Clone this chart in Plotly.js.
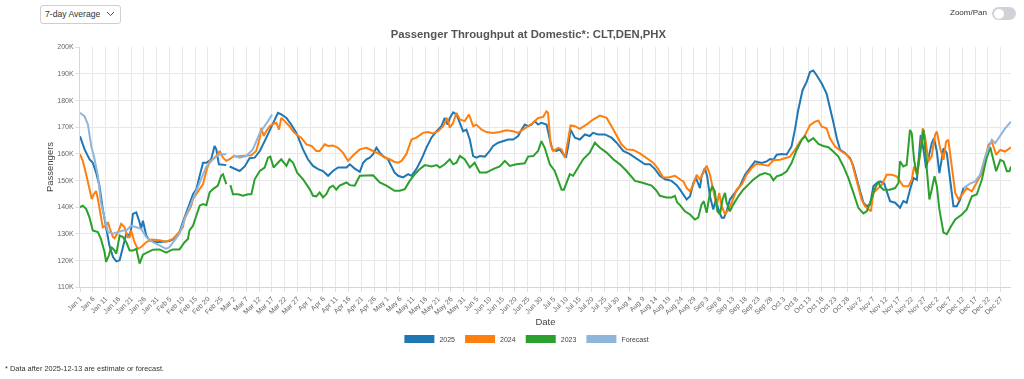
<!DOCTYPE html>
<html>
<head>
<meta charset="utf-8">
<script src="https://cdn.plot.ly/plotly-3.0.1.min.js"></script>
<style>
  body { margin: 0; background: #fff; font-family: "Liberation Sans", Arial, sans-serif; }
  #wrap { position: relative; width: 1024px; height: 379px; overflow: hidden; }
  #chart { position: absolute; left: 0; top: 0; width: 1024px; height: 379px; will-change: transform; }
  #sel { position: absolute; left: 40px; top: 5px; width: 81px; height: 19px; border: 1px solid #cfcfcf; border-radius: 3px;
         box-sizing: border-box; font-size: 8.6px; color: #333; line-height: 17px; padding-left: 4px; background: #fff; }
  #sel svg { position: absolute; right: 5px; top: 5px; }
  #zp { position: absolute; left: 950px; top: 8px; font-size: 8px; color: #333; }
  #tog { position: absolute; left: 992px; top: 7px; width: 24px; height: 13px; border-radius: 7px; background: #cfd2d6; }
  #tog div { position: absolute; left: 1.5px; top: 1.5px; width: 10px; height: 10px; border-radius: 50%; background: #fff; }
  #note { position: absolute; left: 5px; top: 364px; font-size: 7.4px; color: #333; }
</style>
</head>
<body>
<div id="wrap">
  <div id="chart"></div>
  <div id="sel">7-day Average<svg width="9" height="6" viewBox="0 0 9 6"><polyline points="1,1 4.5,4.5 8,1" fill="none" stroke="#555" stroke-width="1"/></svg></div>
  <div id="zp">Zoom/Pan</div>
  <div id="tog"><div></div></div>
  <div id="note">* Data after 2025-12-13 are estimate or forecast.</div>
</div>
<script>
// ---- data: day-of-year (0 = Jan 1) and 7-day average passengers (thousands) ----
const names = ["2025", "2024", "2023", "Forecast"];

const d2025 = [0,1.8,3.7,5.0,6.3,7.6,8.9,10.2,11.5,12.9,14.2,15.5,16.8,18.1,19.4,20.0,20.7,22.0,23.3,23.9,
  24.6,25.9,27.2,29.8,32.4,35.0,36.3,37.6,38.9,40.2,41.5,42.8,44.2,45.5,46.8,48.1,49.4,51.3,52.6,53.3,
  54.3,55.9,57.2,58,58.5,60.5,62.4,64.4,66.3,68.3,70.3,72.2,74.1,76.1,77.4,78.7,80.7,82.6,84.6,85.9,
  87.2,89.1,91.1,93.1,95.0,97.0,98.9,100.9,102.8,104.2,105.5,107.4,109.4,
  110.7,112.0,113.3,114.6,115.9,117.2,118.5,120.4,121.7,123.0,124.4,126.3,128.3,129.6,131.5,133.5,135.4,137.4,139.4,141.3,
  142.6,143.7,144.6,145.9,147.2,148.5,149.8,151.1,152.4,153.7,155.0,156.3,158.3,160.2,161.5,163.5,165.4,167.4,169.4,171.3,
  172.6,173.9,175.2,176.5,177.8,179.1,180.4,182.4,183.7,184.7,186.3,187.6,188.9,190.0,190.9,191.8,193.5,195.4,197.4,199.3,
  200.6,202.6,205.2,207.8,209.8,212.4,215.0,217.0,218.9,220.9,222.8,224.8,226.7,228.7,231.3,233.3,234.6,
  235.9,237.2,238.5,239.8,240.8,241.7,242.4,243.0,244.3,245.2,246.3,247.6,248.6,249.6,250.9,251.8,252.8,254.1,256.1,258.0,
  260.0,262.0,263.9,266.5,268.5,269.8,271.1,272.4,274.3,276.3,278.2,279.5,280.8,282.5,284.1,285.4,286.7,288.0,290.0,291.9,
  293.2,294.5,295.9,297.2,299.1,301.1,302.4,303.7,305.0,306.3,307.6,308.9,310.2,311.5,312.8,314.4,315.4,316.7,318.7,320.6,
  321.9,323.2,324.5,325.9,327.2,328.2,328.7,329.8,330.8,331.7,333.0,333.9,335.0,336.0,336.9,337.6,338.9,340.2,341.5,342.8,
  344.1,345.4];
const v2025 = [166.5,161.6,157.9,156.6,152.9,148,139.3,133,125.6,121.2,119.6,120,125.6,130,129.3,131.8,137.4,138,134.3,131.8,
  134.9,129.3,127.5,126.8,127,127.2,127.8,129.3,130.6,134.3,137.4,141.1,144.8,146.7,151.7,156.6,156.6,157.9,162.9,161.6,
  156,155.7,155.7,null,155.2,154.2,153.5,155.2,158.3,158.5,161,164.7,168.4,172.2,175.3,174.7,173.4,170.9,167.8,164.7,
  161.6,157.9,155.4,154.2,153.5,151.7,153.5,154.8,154.8,154.8,156,154.4,153.2,
  156.6,157.9,158.5,159.8,162.2,160.4,159.1,157.9,155.4,152.9,151.7,151.1,152.3,151.7,154.2,157.9,162.2,166,168.4,170.3,
  173.4,170.9,173.4,175.5,174.7,171.6,168.4,169,165.3,159.1,158.5,159.1,158.9,161,162.9,164.1,164.7,165.3,165.3,166.6,
  169,170.9,170.3,170.9,172.2,170.9,171.6,170.9,165.3,161.6,161,161.6,159.8,158.5,162.9,169,166,165.3,167.2,166.6,
  167.8,167.2,167.2,166,164.1,161,159.8,158.5,157.3,156,156,154.2,151.7,150.4,149.8,148.2,146.5,
  144.7,142.8,144,149,150.9,148.4,147.1,151.5,154.6,151.5,144,139.1,142.8,139.1,136,136,138.4,142.8,145.3,147.8,
  152.1,154.6,157.1,156.5,157.1,158,157.7,159.6,159.9,159.7,162.7,168.9,176.3,183.8,186.9,190.6,191.2,189.4,186.3,182.5,
  177.6,172,165.8,161.4,160.2,158.3,155.2,150.2,145.9,141.6,140.3,140.9,147.8,149,149.6,148.8,145.9,142.2,141.6,139.7,
  142.2,141.6,146.5,150.9,150.2,160.2,167,161.4,154.6,158.3,163.9,165.8,160.8,152.7,157.7,162,160.2,149,140.3,140.3,
  142.8,147.1];

const d2024 = [0,1.1,2.4,3.7,4.6,5.4,6.3,7.0,8.2,8.9,10.2,10.9,11.5,12.9,13.5,14.9,16.1,17.4,18.7,19.4,
  20.0,21.3,22.6,23.9,25.9,27.8,31.1,33.7,36.3,38.3,40.2,40.9,42.2,43.5,44.2,45.5,46.8,48.1,49.4,50.7,
  52.0,53.3,54.6,55.9,57.2,58.5,59.8,62.4,65.0,67.0,68.9,70.3,70.9,71.8,72.8,74.1,75.5,76.8,77.8,78.7,
  80.0,81.9,83.3,84.6,86.5,88.5,90.5,92.4,93.7,95.7,97.0,98.9,100.9,102.8,104.8,106.8,109.4,
  112.0,114.6,117.2,119.1,121.1,123.0,124.4,125.7,127.6,129.6,131.5,134.1,136.1,138.0,140.0,142.0,143.5,144.6,145.9,147.2,
  148.5,150.4,152.1,153.7,155.0,157.0,158.9,161.5,164.1,166.7,169.4,171.3,173.3,175.2,177.2,179.1,181.1,182.4,183.0,184.0,
  185.0,187.0,188.3,189.6,190.9,191.8,193.5,195.4,198.0,200.6,203.3,205.9,207.8,209.8,211.7,213.7,216.3,218.9,221.5,224.1,
  226.1,228.0,230.0,232.6,234.6,
  235.9,237.2,238.5,239.8,241.1,242.4,243.7,245.0,246.3,247.6,248.9,249.9,250.9,252.2,253.5,254.8,256.7,258.7,260.6,262.6,
  264.6,267.2,269.1,271.1,273.7,275.6,277.6,279.5,281.5,283.5,285.4,287.4,288.7,290.0,291.9,293.2,295.2,297.2,299.8,301.7,
  303.7,305.6,306.9,308.2,309.2,310.2,311.5,313.5,315.4,317.4,319.3,320.6,321.9,323.9,325.2,326.1,327.4,328.5,329.5,330.4,
  331.7,333.0,334.3,335.0,336.3,337.6,338.6,339.5,340.9,342.2,343.5,345.4,346.7,348.7,350.6,352.6,353.9,355.2,356.5,358.2,
  359.8,361.7,364];
const v2024 = [159.8,157.3,152.3,146.7,143,144.8,146,143,135.5,132.4,133,134.3,132.4,128.7,128.3,130.6,133.7,132.4,128.7,128.7,
  131.2,126.8,124.3,125,126.8,127.8,127.5,127,128,130,132.4,136,138,140.5,143,144.8,146.7,148.6,153.5,157.3,
  157.9,159.1,161,158.5,157.3,157.9,158.9,159.1,159.4,159.4,161,166,169.7,166.6,168.4,170.3,171.2,171.6,169,173.4,
  172.2,170.3,168.4,167.2,166,163.5,162.9,161,161,163.5,162.9,163.1,162.2,160.4,157.3,159.4,161.6,
  162.2,161,159.8,158.5,157.9,156.9,156.6,157.3,159.8,165.3,166,167.8,168.1,167.6,168.4,170.3,173.4,169.7,171.6,175.3,
  172.8,172.2,174.7,170.3,170.9,169,168.1,167.8,168.1,168.8,168.4,167.8,169,170.3,171.6,173.4,173.8,175.9,175.3,163.5,
  161,162.2,161.6,158.5,166.6,170.6,170.3,169.3,170.9,172.8,174.3,173.4,170.3,166.6,163.5,161.6,161.4,160.1,158.5,156.6,
  154.2,151.1,151.1,151.7,150.4,
  149.6,147.1,145.9,148.4,152.1,150.2,152.7,155.5,152.1,146.5,140.3,145.3,140.3,137.2,139.1,141.6,146.5,148.4,152.1,154.6,
  156.2,155.8,155.5,157.5,157.7,158.3,158.9,161.4,164.5,167,170.7,172,172.4,170.1,169.5,165.8,162.7,161.2,159.6,157.1,
  150.2,142.8,140.3,139.1,138.4,145.3,146.5,148.4,152.1,152.1,151.5,149.6,147.8,147.8,150.2,155.2,152.1,160.2,169.5,166.4,
  157.1,159,167,168.3,162,157.7,164.5,165.2,155.2,145.3,142.8,145.3,147.1,145.9,149,152.7,158.3,163.3,164.5,159.6,
  161.4,160.8,162.4];

const d2023 = [0,1.1,2.4,3.7,5.0,7.0,8.2,9.6,10.2,11.3,12.2,13.5,14.2,15.5,16.8,18.1,19.4,20.7,22.0,23.3,
  24.6,26.5,28.5,31.1,33.7,36.3,38.9,40.9,42.2,42.8,44.2,45.5,46.8,48.1,49.4,50.7,52.0,53.9,55.2,55.9,
  57.2,58,58.8,59.8,61.8,63.7,65.7,67.0,68.3,70.3,72.2,73.5,74.4,75.7,77.4,78.7,80.7,81.9,83.3,84.9,
  87.2,89.8,91.1,92.4,93.7,95.0,96.3,97.6,98.9,100.2,101.5,104.2,105.5,107.4,109.4,
  112.0,114.6,117.2,119.8,123.0,125.0,127.0,128.9,130.9,132.8,134.8,137.4,139.4,140.7,142.6,144.6,145.9,147.2,148.5,150.4,
  152.4,154.3,156.3,158.9,161.5,164.1,166.1,168.0,170.6,173.9,175.2,177.2,179.1,180.4,181.7,183.7,185.6,187.0,188.3,189.2,
  190.2,191.5,192.8,194.8,196.7,199.3,201.3,203.3,205.9,208.5,211.1,213.7,217.0,219.6,221.5,223.5,225.4,226.7,229.3,231.3,
  232.6,233.5,234.6,
  236.5,238.5,240.4,241.7,243.0,243.9,245.0,246.3,247.2,248.2,249.2,250.2,251.2,252.2,252.8,254.1,255.4,257.4,259.3,261.3,
  263.2,265.9,267.8,269.8,271.1,272.4,274.3,276.3,278.2,280.2,282.2,283.5,284.8,286.7,288.7,290.6,292.6,294.5,296.5,298.5,
  300.4,302.4,304.3,306.3,307.6,308.9,310.9,312.2,312.8,314.1,316.7,318.7,320.0,320.6,321.9,323.2,324.5,325.2,326.1,327.2,
  328.5,329.8,331.1,332.1,333.0,334.1,335.0,336.0,337.6,338.9,340.2,342.2,344.8,346.7,348.7,350.6,352.6,354.3,355.9,357.2,
  358.2,359.8,361.1,362.4,363.4,364];
const v2023 = [139.9,140.5,139.3,136.1,131.2,130.6,128,123.1,119.4,121.9,125,123.7,122.5,129.3,128.7,126.8,123.7,123.7,124.3,118.8,
  122.1,123.1,124,124.1,122.9,124.1,124.1,126.8,128,131.2,133,136.8,140.5,141.1,140.7,145.5,146.7,148,151.7,152.3,
  148.6,null,148.2,144.8,144.8,144.2,144.8,144.8,150.4,153.5,154.8,158.5,158.9,154.8,156.6,157.9,155.4,157.9,156.6,152.9,
  150.4,146.7,144.2,144,145.5,143.6,144.8,147.3,148,146.5,148,149.2,148.2,148,151.7,
  151.9,151.9,149.2,148,146.1,146.1,146.7,149.8,152.3,154.2,155.7,155.2,155.7,154.8,156,157.9,156,156.6,159.1,157.9,
  154.8,156.6,152.9,152.9,154.2,155.2,157.3,155.4,156,156.4,158.9,159.1,161,164.7,162.2,156,153.5,149.8,146.5,146.5,
  149.2,152.3,151.7,154.8,157.9,160.4,164.1,162.2,160.4,157.9,156,153.5,149.8,149.2,148.6,148,146.1,144.2,143.6,143.6,
  144.2,141.7,140.7,
  138.4,137.2,135.3,136,140.9,142.2,137.8,145.3,147.8,145.9,138.4,137.2,142.8,145.3,141.6,138.4,140.9,144,146.5,148.4,
  150.2,152.1,152.7,152.1,150,151.5,152.1,153.4,156.5,161.4,165.2,166.6,164.5,165.8,163.7,162.9,162.4,160.8,158.9,155.2,
  150.9,145.3,139.7,137.6,138.4,141.6,147.1,149.6,147.8,146.5,146.5,147.1,149,157.1,155.2,155.8,168.9,167.6,157.7,152.1,
  161.4,168.9,154,142.8,146.5,151.5,147.8,139.1,130.4,129.8,132.2,135.3,137.2,139.1,144,144.7,150.2,157.7,162.4,157.7,
  153.4,157.7,157.1,153.4,153.4,155.2];

const dFc = [0,1.8,3.1,4.4,5.7,7.0,8.2,9.6,10.9,12.9,14.9,16.8,18.1,20.0,22.0,23.9,25.9,28.5,31.1,33.7,
  35.0,36.3,38.9,41.5,44.2,46.8,49.4,52.0,54.6,57.2,58,59.8,62.4,65.0,67.6,70.3,72.2,73.5,75.1,
  200,
  345.4,348.0,350.0,351.9,353.9,355.2,356.5,357.8,359.8,361.7,364];
const vFc = [175.3,174,170.9,162.9,157.9,151.7,141.7,136,130.6,130,130.6,131.2,131.2,133,132.4,131.8,128.7,126.8,125.6,124.3,
  125,126.8,130,136.8,143,149.2,155.2,157.9,159.8,159.8,null,159.4,158.5,159.1,161.6,167.8,170.3,172.2,174.7,
  null,
  147.1,148.8,149.6,152.1,158.9,162,165.2,163.9,167,169.5,172];

const colors = ["#1f77b4", "#ff7f0e", "#2ca02c", "#8fb6da"];

// ---- helpers ----
function toX(d) {
  const t = new Date(Date.UTC(2025, 0, 1) + Math.round(d * 86400000));
  const p = n => String(n).padStart(2, "0");
  return t.getUTCFullYear() + "-" + p(t.getUTCMonth() + 1) + "-" + p(t.getUTCDate()) + " " +
         p(t.getUTCHours()) + ":" + p(t.getUTCMinutes());
}

const series = [[d2025, v2025], [d2024, v2024], [d2023, v2023], [dFc, vFc]];
const traces = series.map((s, i) => ({
  type: "scatter", mode: "lines", name: names[i], legendgroup: names[i], showlegend: false,
  x: s[0].map(toX), y: s[1],
  line: { color: colors[i], width: 2 },
  connectgaps: false
}));
// legend entries drawn as thick swatches (box-style keys)
names.forEach((n, i) => traces.push({
  type: "scatter", mode: "lines", name: n, legendgroup: n, showlegend: true,
  x: [null], y: [null], line: { color: colors[i], width: 8 }
}));

const FONT = "Liberation Sans, Arial, sans-serif";
const layout = {
  width: 1024, height: 379,
  margin: { l: 80, r: 13, t: 47, b: 92 },
  paper_bgcolor: "#fff", plot_bgcolor: "#fff",
  font: { family: FONT, color: "#666" },
  title: { text: "Passenger Throughput at Domestic*: CLT,DEN,PHX",
           font: { family: FONT, size: 11.3, color: "#555", weight: "bold" },
           xref: "container", x: 0.516, xanchor: "center", yref: "container", y: 0.91, yanchor: "middle" },
  xaxis: {
    type: "date", range: ["2025-01-01", "2025-12-31"],
    tick0: "2025-01-01", dtick: 5 * 86400000, tickformat: "%b %-d", tickangle: -45,
    tickfont: { size: 7, color: "#666666" },
    showgrid: true, gridcolor: "#e8e8e8", gridwidth: 1,
    showline: true, linecolor: "#d6d6d6", linewidth: 1,
    ticks: "outside", ticklen: 4, tickcolor: "#e0e0e0",
    zeroline: false,
    title: { text: "Date", font: { size: 9.5, color: "#444" }, standoff: 2 }
  },
  yaxis: {
    range: [110, 200], dtick: 10, ticksuffix: "K",
    tickfont: { size: 7, color: "#666666" },
    showgrid: true, gridcolor: "#e8e8e8", gridwidth: 1,
    showline: true, linecolor: "#d6d6d6", linewidth: 1,
    ticks: "outside", ticklen: 4, tickcolor: "#e0e0e0",
    zeroline: false,
    title: { text: "Passengers", font: { size: 9.5, color: "#444" }, standoff: 1 }
  },
  showlegend: true,
  legend: { orientation: "h", x: 0.48, xanchor: "center", y: -0.217, yanchor: "middle",
            font: { size: 7, color: "#444" }, itemwidth: 30, traceorder: "normal" }
};

Plotly.newPlot("chart", traces, layout, { staticPlot: true, displayModeBar: false });
</script>
</body>
</html>
